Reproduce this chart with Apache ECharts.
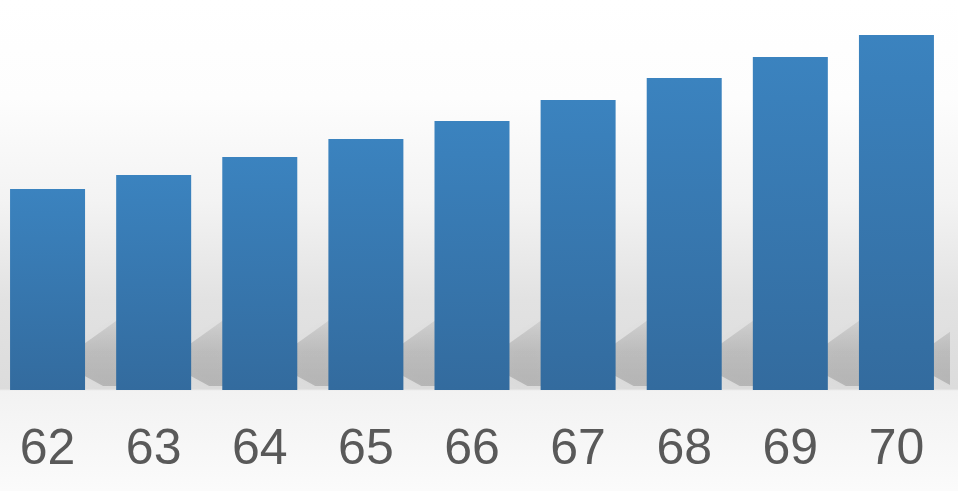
<!DOCTYPE html>
<html>
<head>
<meta charset="utf-8">
<script src="https://cdn.jsdelivr.net/npm/echarts@6/dist/echarts.min.js"></script>
<style>html,body{margin:0;padding:0;background:#fbfbfb;overflow:hidden}#c{position:absolute;left:-6px;top:0;width:964px;height:491px}</style>
</head>
<body>
<div id="c"></div>
<script>
var categories = ['62', '63', '64', '65', '66', '67', '68', '69', '70'];
var values = [201, 215, 233, 251, 269, 290, 312, 333, 355];
var yMax = 390;

var chart = echarts.init(document.getElementById('c'));

function shadowItem(params, api) {
  var base = api.coord([api.value(0), 0]);
  var band = api.size([1, 0])[0];
  var bw = 75;
  var gap = band - bw;
  var xr = base[0] + bw / 2;
  var yb = base[1];
  return {
    type: 'polygon',
    shape: {
      points: [
        [xr - 4, yb - 16],
        [xr - 4, yb - 44],
        [xr + gap + 4, yb - 72],
        [xr + gap + 4, yb - 4],
        [xr + 18, yb - 4]
      ]
    },
    style: {
      fill: new echarts.graphic.LinearGradient(0, 0, 0, 1, [
        { offset: 0, color: 'rgba(0,0,0,0.07)' },
        { offset: 0.5, color: 'rgba(0,0,0,0.14)' },
        { offset: 1, color: 'rgba(0,0,0,0.17)' }
      ]),
      shadowBlur: 12,
      shadowColor: 'rgba(0,0,0,0.12)'
    }
  };
}

chart.setOption({
  animation: false,
  backgroundColor: 'transparent',
  graphic: {
    elements: [{
      type: 'rect',
      z: -10,
      silent: true,
      shape: { x: 0, y: 0, width: 964, height: 491 },
      style: {
        fill: new echarts.graphic.LinearGradient(0, 0, 0, 1, [
          { offset: 0, color: '#ffffff' },
          { offset: 0.2, color: '#fdfdfd' },
          { offset: 0.41, color: '#f3f3f3' },
          { offset: 0.61, color: '#e2e2e2' },
          { offset: 0.792, color: '#dcdcdc' },
          { offset: 0.796, color: '#f2f2f2' },
          { offset: 1, color: '#fbfbfb' }
        ])
      }
    }]
  },
  grid: { left: 0.5, right: 8.5, top: 0, bottom: 101, containLabel: false },
  xAxis: {
    type: 'category',
    data: categories,
    axisLine: { show: false },
    axisTick: { show: false },
    axisLabel: {
      color: '#595959',
      fontSize: 50,
      fontFamily: 'Liberation Sans, Arial, sans-serif',
      margin: 35,
      lineHeight: 50
    }
  },
  yAxis: {
    type: 'value',
    min: 0,
    max: yMax,
    show: false,
    splitLine: { show: false }
  },
  series: [
    {
      type: 'custom',
      renderItem: shadowItem,
      data: values.map(function (v, i) { return [i, v]; }),
      clip: true,
      z: 1,
      silent: true
    },
    {
      type: 'bar',
      data: values,
      barWidth: 75,
      z: 2,
      itemStyle: {
        color: new echarts.graphic.LinearGradient(0, 0, 0, 1, [
          { offset: 0, color: '#3b83bf' },
          { offset: 1, color: '#336b9e' }
        ])
      }
    }
  ]
});
</script>
</body>
</html>
